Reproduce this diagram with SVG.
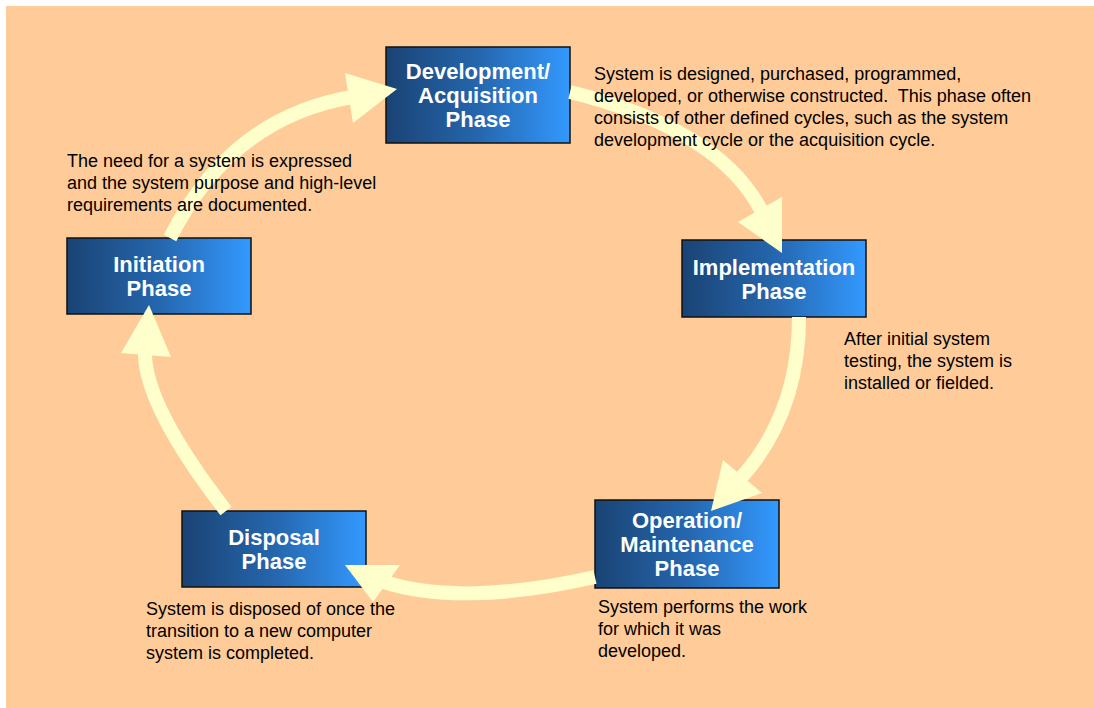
<svg xmlns="http://www.w3.org/2000/svg" width="1094" height="708" viewBox="0 0 1094 708">
  <defs>
    <linearGradient id="boxGrad" x1="0" y1="0" x2="1" y2="0">
      <stop offset="0" stop-color="#1a4374"/>
      <stop offset="0.5" stop-color="#2566ad"/>
      <stop offset="1" stop-color="#3399ff"/>
    </linearGradient>
  </defs>
  <style>
    .box { fill: url(#boxGrad); stroke: #111111; stroke-width: 1.5; }
    .title { font-family: "Liberation Sans", Arial, sans-serif; font-size: 22px; font-weight: bold; fill: #ffffff; text-anchor: middle; }
    .desc { font-family: "Liberation Sans", Arial, sans-serif; font-size: 18px; fill: #000000; }
    .shaft { fill: none; stroke: #ffffcc; stroke-width: 14; }
    .head { fill: #ffffcc; stroke: none; }
  </style>
  <rect x="6" y="6" width="1088" height="702" fill="#ffcc99"/>

  <g id="node-development">
    <rect class="box" x="386" y="47" width="184" height="96"/>
    <text class="title" x="478" y="79">Development/</text>
    <text class="title" x="478" y="103">Acquisition</text>
    <text class="title" x="478" y="127">Phase</text>
  </g>
  <g id="node-initiation">
    <rect class="box" x="67" y="238" width="184" height="76"/>
    <text class="title" x="159" y="272">Initiation</text>
    <text class="title" x="159" y="296">Phase</text>
  </g>
  <g id="node-implementation">
    <rect class="box" x="682" y="240" width="184" height="77"/>
    <text class="title" x="774" y="274.5">Implementation</text>
    <text class="title" x="774" y="298.5">Phase</text>
  </g>
  <g id="node-operation">
    <rect class="box" x="595" y="500" width="184" height="88"/>
    <text class="title" x="687" y="528">Operation/</text>
    <text class="title" x="687" y="552">Maintenance</text>
    <text class="title" x="687" y="576">Phase</text>
  </g>
  <g id="node-disposal">
    <rect class="box" x="182" y="511" width="184" height="76"/>
    <text class="title" x="274" y="545">Disposal</text>
    <text class="title" x="274" y="569">Phase</text>
  </g>

  <g id="connectors">
    <path class="shaft" d="M170,238 Q230,118 352,97"/>
    <polygon class="head" points="397,89 345,73 353,123"/>
    <path class="shaft" d="M570,92 Q720,129 762,212"/>
    <polygon class="head" points="782,253 738,222 782,197"/>
    <path class="shaft" d="M799,317 Q799,414 740,479"/>
    <polygon class="head" points="711,511 723,460 762,493"/>
    <path class="shaft" d="M595,577 Q462,607 384,582"/>
    <polygon class="head" points="345,565 400,565 373,602"/>
    <path class="shaft" d="M226,511 Q144,405 145,352"/>
    <polygon class="head" points="149,305 121,353 171,357"/>
  </g>

  <g id="descriptions">
    <text class="desc" x="594" y="80">System is designed, purchased, programmed,</text>
    <text class="desc" x="594" y="102" xml:space="preserve">developed, or otherwise constructed.  This phase often</text>
    <text class="desc" x="594" y="124">consists of other defined cycles, such as the system</text>
    <text class="desc" x="594" y="146">development cycle or the acquisition cycle.</text>
    <text class="desc" x="67" y="167">The need for a system is expressed</text>
    <text class="desc" x="67" y="189">and the system purpose and high-level</text>
    <text class="desc" x="67" y="211">requirements are documented.</text>
    <text class="desc" x="844" y="345">After initial system</text>
    <text class="desc" x="844" y="367">testing, the system is</text>
    <text class="desc" x="844" y="389">installed or fielded.</text>
    <text class="desc" x="598" y="613">System performs the work</text>
    <text class="desc" x="598" y="635">for which it was</text>
    <text class="desc" x="598" y="657">developed.</text>
    <text class="desc" x="146" y="615">System is disposed of once the</text>
    <text class="desc" x="146" y="637">transition to a new computer</text>
    <text class="desc" x="146" y="659">system is completed.</text>
  </g>
</svg>
